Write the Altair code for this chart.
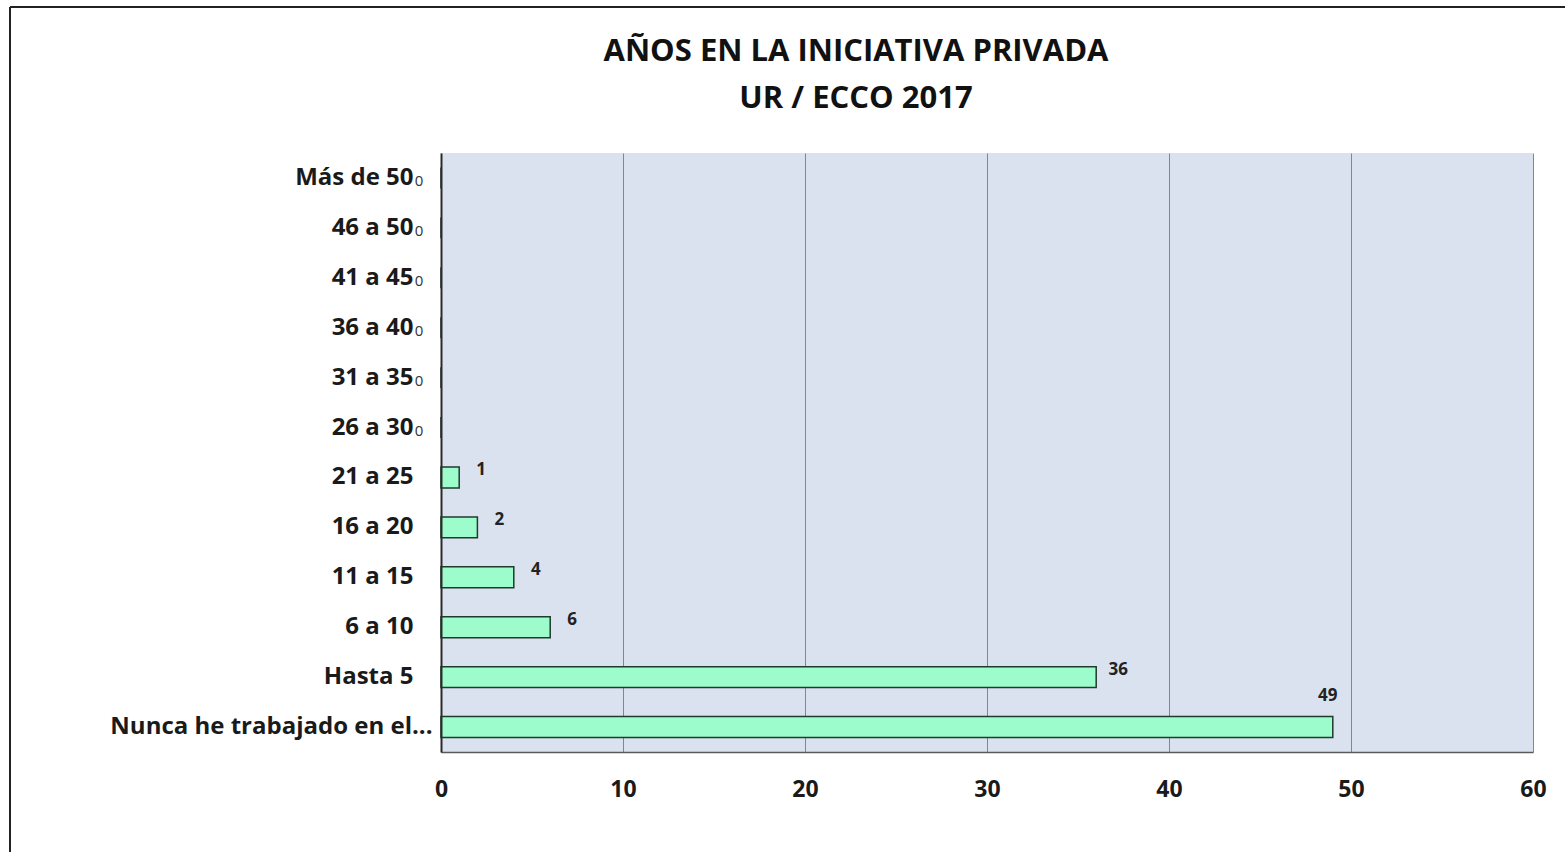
import altair as alt
import pandas as pd

categories = ["Más de 50", "46 a 50", "41 a 45", "36 a 40", "31 a 35", "26 a 30",
              "21 a 25", "16 a 20", "11 a 15", "6 a 10", "Hasta 5",
              "Nunca he trabajado en el..."]
values = [0, 0, 0, 0, 0, 0, 1, 2, 4, 6, 36, 49]
x_ticks = [0, 10, 20, 30, 40, 50, 60]
title_lines = ["AÑOS EN LA INICIATIVA PRIVADA", "UR / ECCO 2017"]

df = pd.DataFrame({"cat": categories, "val": values})
FONT = "Open Sans"
LONG = categories[-1]

y_enc = alt.Y(
    "cat:N", sort=categories,
    scale=alt.Scale(paddingInner=0.58, paddingOuter=0.29),
    axis=alt.Axis(title=None, labelFont=FONT, labelFontSize=24, labelFontWeight="bold",
                  labelColor="#1a1a1a",
                  labelPadding={"condition": {"test": f"datum.value == '{LONG}'", "value": 9},
                                "value": 28},
                  ticks=False, domain=True,
                  domainColor="#2b2b2b", domainWidth=2, zindex=1, labelLimit=400),
)
x_enc = alt.X(
    "val:Q",
    scale=alt.Scale(domain=[0, 60], nice=False),
    axis=alt.Axis(title=None, values=x_ticks, grid=True, gridColor="#868686", gridWidth=1,
                  domainColor="#595959", domainWidth=1.5, ticks=False, labelFont=FONT,
                  labelFontSize=23, labelFontWeight="bold", labelColor="#1a1a1a",
                  labelPadding=26, labelFlush=False, format="d"),
)

bars = alt.Chart(df).mark_bar(fill="#9dfccb", stroke="#1f3b2d", strokeWidth=1.5).encode(
    x=x_enc, y=y_enc)

base = alt.Chart(df)
labels = base.transform_filter("datum.val > 0 && datum.val < 40").mark_text(
    font=FONT, fontSize=17, fontWeight="bold", color="#222", dx=22, dy=-7, align="center"
).encode(x="val:Q", y=alt.Y("cat:N", sort=categories), text="val:Q")
label_max = base.transform_filter("datum.val >= 40").mark_text(
    font=FONT, fontSize=17, fontWeight="bold", color="#222", dx=-5, dy=-31, align="center"
).encode(x="val:Q", y=alt.Y("cat:N", sort=categories), text="val:Q")
zero_labels = base.transform_filter("datum.val == 0").mark_text(
    font=FONT, fontSize=15, fontWeight="normal", color="#333", dx=-22, dy=3, align="center"
).encode(x="val:Q", y=alt.Y("cat:N", sort=categories), text="val:Q")

frame_df = pd.DataFrame({"k": [0]})
top_rule = alt.Chart(frame_df).mark_rule(color="#222", strokeWidth=2).encode(
    x=alt.value(-431), x2=alt.value(1124), y=alt.value(-146))
left_rule = alt.Chart(frame_df).mark_rule(color="#222", strokeWidth=2).encode(
    x=alt.value(-431), y=alt.value(-146), y2=alt.value(699))

chart = alt.layer(bars, labels, label_max, zero_labels, top_rule, left_rule).properties(
    width=1092, height=599,
    title=alt.TitleParams(title_lines, font=FONT, fontSize=31, fontWeight="bold",
                          color="#111", anchor="middle", dx=-131, offset=-109, lineHeight=47),
    autosize=alt.AutoSizeParams(type="none"),
    padding={"left": 441, "top": 153, "right": 32, "bottom": 100},
    background="white",
).configure_view(fill="#dbe2ef", strokeWidth=0)

chart.save("out.html", embed_options={"renderer": "svg", "actions": False})
